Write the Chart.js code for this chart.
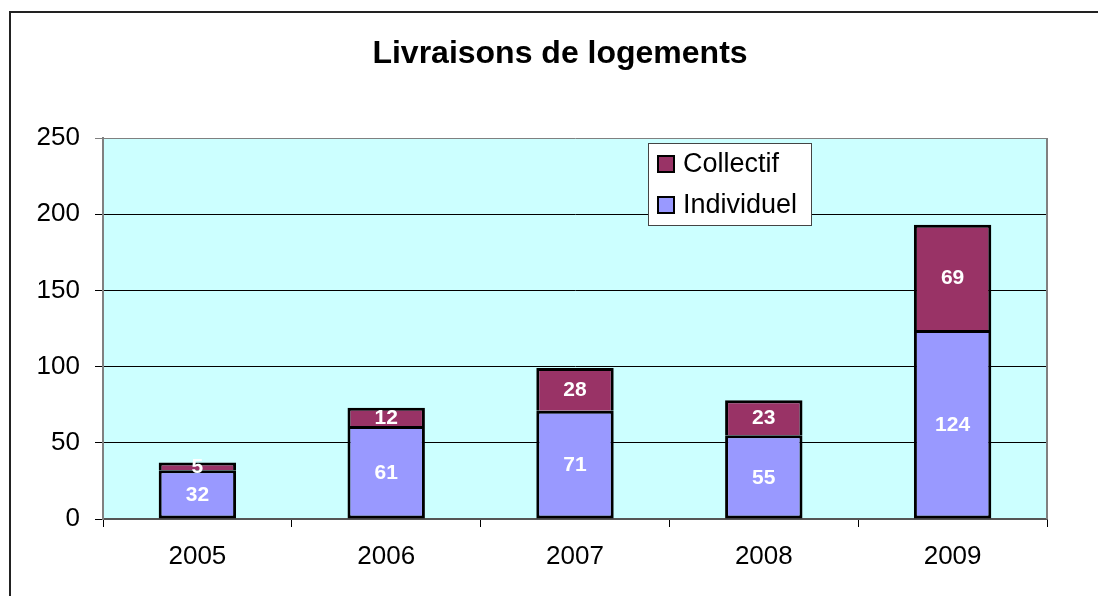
<!DOCTYPE html>
<html>
<head>
<meta charset="utf-8">
<script src="https://cdn.jsdelivr.net/npm/chart.js@4/dist/chart.umd.min.js"></script>
<style>
    html, body { margin: 0; padding: 0; background: #ffffff; }
    #wrap { width: 1098px; height: 596px; position: relative; }
</style>
</head>
<body>
<div id="wrap"><canvas id="chart"></canvas></div>
<script>
// Données du graphique
const annees = ['2005', '2006', '2007', '2008', '2009'];
const individuel = [32, 61, 71, 55, 124];
const collectif = [5, 12, 28, 23, 69];
const titre = 'Livraisons de logements';

const police = '"Liberation Sans", Arial, sans-serif';

// Cadre extérieur, fond de la zone de tracé et titre
const fondPlugin = {
    id: 'fond',
    beforeDraw(chart) {
        const { ctx, chartArea } = chart;
        ctx.save();
        ctx.fillStyle = '#CCFFFF';
        ctx.fillRect(chartArea.left, chartArea.top, chartArea.right - chartArea.left, chartArea.bottom - chartArea.top);
        ctx.strokeStyle = '#222222';
        ctx.lineWidth = 2;
        ctx.strokeRect(10, 12, 1100, 600);
        ctx.fillStyle = '#000000';
        ctx.font = 'bold 32px ' + police;
        ctx.textAlign = 'center';
        ctx.textBaseline = 'alphabetic';
        ctx.fillText(titre, 560, 63);
        ctx.restore();
    },
    afterDatasetsDraw(chart) {
        const { ctx, chartArea } = chart;
        ctx.save();
        // bord droit de la zone de tracé
        ctx.strokeStyle = '#808080';
        ctx.lineWidth = 2;
        ctx.beginPath();
        ctx.moveTo(chartArea.right, chartArea.top);
        ctx.lineTo(chartArea.right, chartArea.bottom);
        ctx.stroke();

        // étiquettes de valeurs au centre des segments
        ctx.fillStyle = '#ffffff';
        ctx.font = 'bold 21px ' + police;
        ctx.textAlign = 'center';
        ctx.textBaseline = 'middle';
        chart.data.datasets.forEach((ds, i) => {
            chart.getDatasetMeta(i).data.forEach((bar, j) => {
                ctx.fillText(ds.data[j], bar.x, (bar.y + bar.base) / 2 + 1);
            });
        });

        // légende
        const lx = 648, ly = 143, lw = 163, lh = 82;
        ctx.fillStyle = '#ffffff';
        ctx.fillRect(lx, ly, lw, lh);
        ctx.strokeStyle = '#444444';
        ctx.lineWidth = 1;
        ctx.strokeRect(lx + 0.5, ly + 0.5, lw, lh);
        const items = chart.data.datasets.slice().reverse();
        items.forEach((ds, k) => {
            const cy = 164 + k * 41;
            ctx.fillStyle = ds.backgroundColor;
            ctx.fillRect(658, cy - 8, 16, 16);
            ctx.strokeStyle = '#000000';
            ctx.lineWidth = 2;
            ctx.strokeRect(658, cy - 8, 16, 16);
            ctx.fillStyle = '#000000';
            ctx.font = '27px ' + police;
            ctx.textAlign = 'left';
            ctx.textBaseline = 'middle';
            ctx.fillText(ds.label, 683, cy + 1);
        });
        ctx.restore();
    }
};

new Chart(document.getElementById('chart'), {
    type: 'bar',
    data: {
        labels: annees,
        datasets: [
            {
                label: 'Individuel',
                data: individuel,
                backgroundColor: '#9999FF',
                borderColor: '#000000',
                borderWidth: 3,
                borderSkipped: false
            },
            {
                label: 'Collectif',
                data: collectif,
                backgroundColor: '#993366',
                borderColor: '#000000',
                borderWidth: 3,
                borderSkipped: 'bottom'
            }
        ]
    },
    options: {
        responsive: true,
        maintainAspectRatio: false,
        animation: false,
        layout: {
            padding: { left: 0, top: 138, right: 51, bottom: 0 }
        },
        datasets: {
            bar: { barPercentage: 0.41, categoryPercentage: 1 }
        },
        plugins: {
            legend: { display: false },
            title: { display: false },
            tooltip: { enabled: false }
        },
        scales: {
            x: {
                stacked: true,
                afterFit(scale) { scale.height = 77; },
                grid: {
                    offset: true,
                    drawOnChartArea: false,
                    drawTicks: true,
                    tickLength: 8,
                    color: '#000000'
                },
                border: { color: '#555555', width: 2 },
                ticks: {
                    color: '#000000',
                    padding: 14,
                    font: { family: police, size: 26 }
                }
            },
            y: {
                stacked: true,
                min: 0,
                max: 250,
                afterFit(scale) { scale.width = 103; },
                grid: {
                    color: (c) => (c.tick && c.tick.value === 250 ? '#808080' : '#000000'),
                    lineWidth: 1,
                    tickLength: 8
                },
                border: { color: '#808080', width: 2 },
                ticks: {
                    stepSize: 50,
                    color: '#000000',
                    padding: 15,
                    font: { family: police, size: 26 }
                }
            }
        }
    },
    plugins: [fondPlugin]
});
</script>
</body>
</html>
